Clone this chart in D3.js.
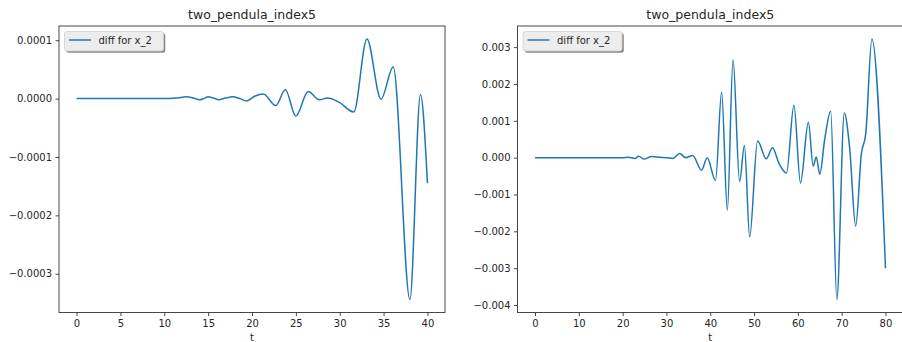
<!DOCTYPE html>
<html>
<head>
<meta charset="utf-8">
<script src="https://cdnjs.cloudflare.com/ajax/libs/d3/7.8.5/d3.min.js"></script>
<style>
  body { margin: 0; background: #fff; }
  svg text { font-family: "DejaVu Sans", sans-serif; fill: #262626; }
</style>
</head>
<body>
<svg class="graph" width="902" height="342"></svg>
<script>
//======
// Data
//======

// left run, t in [0, 40]
var leftT = [0, 5, 10, 10.6, 11.5, 12.5, 13.3, 14.0, 14.5, 15.0, 15.6, 16.2, 17.0, 17.8, 18.6, 19.4,
  20.3, 21.3, 22.7, 23.8, 25.0, 26.4, 27.7, 28.6, 29.9, 31.6, 33.1, 34.7, 36.1, 38.0, 39.2, 40];
var leftDiff = [0, 0, 0, 0, 0.01e-4, 0.03e-4, 0.01e-4, -0.02e-4, 0, 0.03e-4, 0.01e-4, -0.02e-4, 0.01e-4, 0.03e-4, 0, -0.04e-4,
  0.04e-4, 0.08e-4, -0.12e-4, 0.15e-4, -0.30e-4, 0.12e-4, -0.02e-4, 0.01e-4, -0.06e-4, -0.23e-4, 1.02e-4, -0.01e-4, 0.54e-4, -3.44e-4, 0.07e-4, -1.45e-4];

// right run, t in [0, 80]
var rightT = [0, 10, 20, 21.2, 22.8, 23.7, 24.9, 26.6, 28.5, 30.0, 31.5, 33.0, 34.4, 36.0, 38.0, 39.3,
  41.2, 42.6, 43.9, 45.2, 46.7, 47.8, 49.0, 50.8, 52.8, 54.2, 55.7, 57.4, 59.1, 60.6, 62.4, 63.5,
  64.2, 65.0, 66.1, 67.5, 68.9, 70.6, 71.8, 73.2, 74.5, 75.5, 76.9, 80];
var rightDiff = [0, 0, 0, 0.01e-3, -0.02e-3, 0.035e-3, -0.04e-3, 0.03e-3, 0.01e-3, 0, -0.02e-3, 0.11e-3, 0, 0.06e-3, -0.34e-3, 0,
  -0.62e-3, 1.78e-3, -1.43e-3, 2.66e-3, -0.65e-3, 0.33e-3, -2.15e-3, 0.45e-3, -0.03e-3, 0.27e-3, -0.16e-3, -0.42e-3, 1.42e-3, -0.69e-3, 0.96e-3, -0.23e-3,
  0.02e-3, -0.45e-3, 0.47e-3, 1.26e-3, -3.85e-3, 1.21e-3, 0.29e-3, -1.86e-3, 0.11e-3, 0.65e-3, 3.22e-3, -3.0e-3];

var leftXTicks = [0, 5, 10, 15, 20, 25, 30, 35, 40];
var leftYTicks = [-0.0003, -0.0002, -0.0001, 0, 0.0001];
var rightXTicks = [0, 10, 20, 30, 40, 50, 60, 70, 80];
var rightYTicks = [-0.004, -0.003, -0.002, -0.001, 0, 0.001, 0.002, 0.003];

var titleText = "two_pendula_index5";
var legendText = "diff for x_2";
var lineColor = "#1f77b4";

//=======
// Chart
//=======

var svg = d3.select(".graph");

// pad an extent by 5% like matplotlib does
function padded(values) {
  var ext = d3.extent(values);
  var m = (ext[1] - ext[0]) * 0.05;
  return [ext[0] - m, ext[1] + m];
}

function drawPanel(opts) {
  var g = svg.append("g");
  var left = opts.left, right = opts.right, top = 26, bottom = 312.5;

  var x = d3.scaleLinear().domain(padded(opts.t)).range([left, right]);
  var y = d3.scaleLinear().domain(padded(opts.v)).range([bottom, top]);

  var xAxis = d3.axisBottom(x)
    .tickValues(opts.xTicks)
    .tickSize(3.5)
    .tickPadding(3.5)
    .tickFormat(d3.format("d"));

  var yAxis = d3.axisLeft(y)
    .tickValues(opts.yTicks)
    .tickSize(3.5)
    .tickPadding(3.5)
    .tickFormat(d3.format(opts.yFormat));

  var gx = g.append("g")
    .attr("transform", "translate(0," + bottom + ")")
    .call(xAxis);
  var gy = g.append("g")
    .attr("transform", "translate(" + left + ",0)")
    .call(yAxis);

  [gx, gy].forEach(function (a) {
    a.select(".domain").remove();
    a.selectAll(".tick line").attr("stroke", "#333").attr("stroke-width", 0.9);
    a.selectAll(".tick text")
      .attr("fill", "#262626")
      .style("font-size", "10px")
      .style("font-family", "'DejaVu Sans', sans-serif");
  });

  var pts = opts.t.map(function (d, i) { return [d, opts.v[i]]; });

  var line = d3.line()
    .x(function (d) { return x(d[0]); })
    .y(function (d) { return y(d[1]); })
    .curve(d3.curveMonotoneX);

  g.append("path")
    .datum(pts)
    .attr("fill", "none")
    .attr("stroke", lineColor)
    .attr("stroke-width", 1.5)
    .attr("stroke-linejoin", "round")
    .attr("d", line);

  // frame
  g.append("rect")
    .attr("x", left)
    .attr("y", top)
    .attr("width", right - left)
    .attr("height", bottom - top)
    .attr("fill", "none")
    .attr("stroke", "#333")
    .attr("stroke-width", 0.9);

  g.append("text")
    .attr("x", (left + right) / 2)
    .attr("y", 19)
    .attr("text-anchor", "middle")
    .style("font-size", "12.5px")
    .text(titleText);

  g.append("text")
    .attr("x", (left + right) / 2)
    .attr("y", 341)
    .attr("text-anchor", "middle")
    .style("font-size", "10px")
    .text("t");

  // legend with shadow
  var lx = left + 5.5, ly = 31.5, lw = 99, lh = 19.5;
  g.append("rect")
    .attr("x", lx + 1.8).attr("y", ly + 1.8)
    .attr("width", lw).attr("height", lh)
    .attr("rx", 2.5)
    .attr("fill", "#8a8a8a");
  g.append("rect")
    .attr("x", lx).attr("y", ly)
    .attr("width", lw).attr("height", lh)
    .attr("rx", 2.5)
    .attr("fill", "#ededed")
    .attr("stroke", "#cfcfcf")
    .attr("stroke-width", 0.8);
  g.append("line")
    .attr("x1", lx + 4.5).attr("x2", lx + 26.5)
    .attr("y1", ly + 8.5).attr("y2", ly + 8.5)
    .attr("stroke", lineColor)
    .attr("stroke-width", 1.5);
  g.append("text")
    .attr("x", lx + 34)
    .attr("y", ly + 12.2)
    .style("font-size", "10px")
    .text(legendText);
}

drawPanel({left: 59, right: 445, t: leftT, v: leftDiff,
  xTicks: leftXTicks, yTicks: leftYTicks, yFormat: ".4f"});
drawPanel({left: 517.5, right: 903, t: rightT, v: rightDiff,
  xTicks: rightXTicks, yTicks: rightYTicks, yFormat: ".3f"});
</script>
</body>
</html>
